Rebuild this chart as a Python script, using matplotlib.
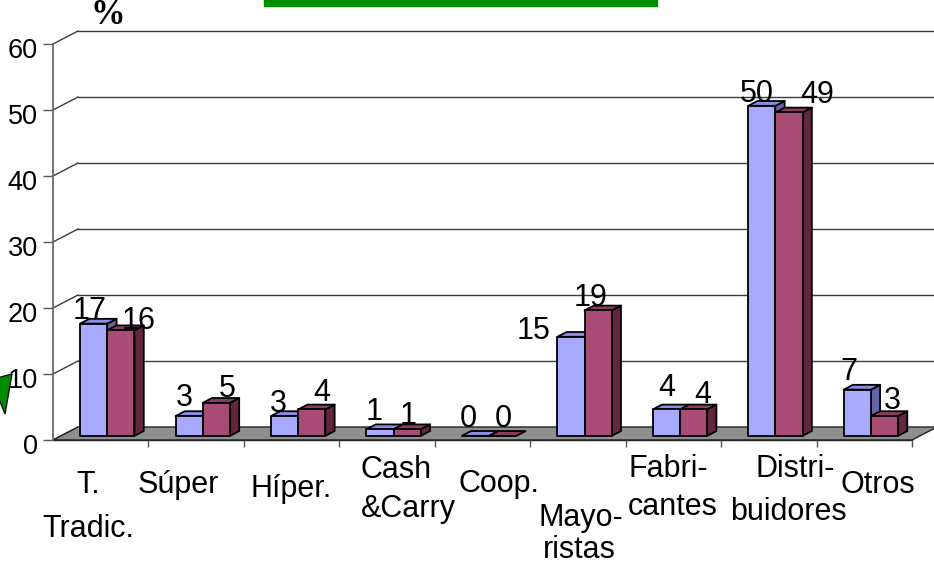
import numpy as np
import matplotlib.pyplot as plt
from matplotlib.patches import Polygon, Rectangle
from matplotlib.transforms import ScaledTranslation

plt.rcParams['font.family'] = ['Liberation Sans', 'DejaVu Sans']

# datos
categorias = ["T.\nTradic.", "Súper", "Híper.", "Cash\n&Carry", "Coop.",
              "Mayo-\nristas", "Fabri-\ncantes", "Distri-\nbuidores", "Otros"]
serie_a = [17, 3, 3, 1, 0, 15, 4, 50, 7]
serie_b = [16, 5, 4, 1, 0, 19, 4, 49, 3]
yticks = [0, 10, 20, 30, 40, 50, 60]

# desplazamientos de las etiquetas de valor (pixeles)
nudge_a = [(-4, 5), (-5, 10), (-6, 4), (-6, 9), (-7, 9), (-37, -2), (0, 13), (-5, 4), (-8, 10)]
nudge_b = [(18, 1), (11, 6), (10, 8), (1, 5), (1, 9), (-8, 4), (9, 6), (28, 9), (8, 7)]
# posicion de cada linea de las categorias: (dx, distancia bajo el suelo)
pos_cat = [[(-13, 53), (-12, 97)], [(-18, 53)], [(0, 57)], [(9, 38), (21, 77)],
           [(16, 52)], [(3, 86), (1, 118)], [(-5, 37), (-1, 75)],
           [(26, 37), (20, 80)], [(14, 53)]]

W, H = 934, 567
fig = plt.figure(figsize=(W / 100, H / 100), dpi=100)
ax = fig.add_axes([53 / W, 127 / H, 859 / W, 396 / H])
n = len(categorias)
ax.set_xlim(0, n)
ax.set_ylim(0, 60)

# profundidad del grafico 3D en unidades de datos
DX, DY = 25 / 95.44, 13 / 6.6
d0, d1 = 0.32, 0.69
ancho = 0.285
inicio = 0.2

# suelo
suelo = [(0, 0), (n, 0), (n + DX, DY), (DX, DY)]
ax.add_patch(Polygon(suelo, closed=True, fc='#8f8f8f', ec='#222222', lw=1,
                     clip_on=False, zorder=1))

# lineas de la pared del fondo y diagonales laterales
for t in yticks:
    if t > 0:
        ax.plot([DX, n + DX + 0.1], [t + DY, t + DY], color='#3c3c3c', lw=1,
                clip_on=False, zorder=0.8)
    ax.plot([0, DX], [t, t + DY], color='#3c3c3c', lw=1, clip_on=False, zorder=0.8)


def barra(x, v, c_frente, c_arriba, c_lado):
    x0, y0 = x + d0 * DX, d0 * DY
    ddx, ddy = (d1 - d0) * DX, (d1 - d0) * DY
    frente = [(x0, y0), (x0 + ancho, y0), (x0 + ancho, y0 + v), (x0, y0 + v)]
    arriba = [(x0, y0 + v), (x0 + ancho, y0 + v),
              (x0 + ancho + ddx, y0 + v + ddy), (x0 + ddx, y0 + v + ddy)]
    lado = [(x0 + ancho, y0), (x0 + ancho + ddx, y0 + ddy),
            (x0 + ancho + ddx, y0 + v + ddy), (x0 + ancho, y0 + v)]
    for pts, c in ((lado, c_lado), (arriba, c_arriba), (frente, c_frente)):
        ax.add_patch(Polygon(pts, closed=True, fc=c, ec='black', lw=1.3,
                             joinstyle='round', clip_on=False, zorder=4))
    return x0 + ancho / 2, y0 + v


for i in range(n):
    xa = i + inicio
    xb = xa + ancho
    cxa, ya = barra(xa, serie_a[i], '#a8aaff', '#8b8de2', '#6366a6')
    cxb, yb = barra(xb, serie_b[i], '#a84b75', '#8d3c60', '#63263f')
    ax.annotate(str(serie_a[i]), xy=(cxa, ya), xytext=nudge_a[i],
                textcoords='offset pixels', ha='center', va='baseline',
                fontsize=22, zorder=6, annotation_clip=False)
    ax.annotate(str(serie_b[i]), xy=(cxb, yb), xytext=nudge_b[i],
                textcoords='offset pixels', ha='center', va='baseline',
                fontsize=22, zorder=6, annotation_clip=False)
    for linea, (dx, dy) in zip(categorias[i].split("\n"), pos_cat[i]):
        ax.annotate(linea, xy=(i + 0.5, 0), xytext=(dx, -dy),
                    textcoords='offset pixels', ha='center', va='baseline',
                    fontsize=22, annotation_clip=False)

# ejes
ax.set_facecolor('none')
for s in ('top', 'right'):
    ax.spines[s].set_visible(False)
ax.spines['left'].set_color('#6b6b6b')
ax.spines['left'].set_linewidth(1.3)
ax.spines['bottom'].set_color('#222222')
ax.spines['bottom'].set_linewidth(1)
ax.spines['bottom'].set_zorder(1.5)
ax.set_yticks(yticks)
ax.set_yticklabels([str(t) for t in yticks])
ax.tick_params(axis='y', length=7, width=1, color='#555555', pad=4, labelsize=19.5)
ax.set_xticks(range(1, n + 1))
ax.set_xticklabels([])
ax.tick_params(axis='x', length=5, width=1, color='#555555')
for lab in ax.get_yticklabels():
    lab.set_transform(lab.get_transform() + ScaledTranslation(0, -4 / 100, fig.dpi_scale_trans))

# simbolo de porcentaje
fig.text(108 / W, 1 - 24 / H, '%', family='Liberation Serif', weight='bold',
         fontsize=25, ha='center', va='baseline')

# barra verde del titulo (cortada arriba) y flecha a la izquierda
fig.patches.append(Rectangle((264 / W, 1 - 6 / H), (657 - 264) / W, 7 / H,
                             transform=fig.transFigure, color='#008c00'))
flecha = np.array([(-3, 378), (12, 374), (5, 414), (-3, 394)])
fig.patches.append(Polygon(np.column_stack([flecha[:, 0] / W, 1 - flecha[:, 1] / H]),
                           closed=True, transform=fig.transFigure,
                           fc='#008c00', ec='#111111', lw=1))

fig.savefig('out.png', dpi=100)
